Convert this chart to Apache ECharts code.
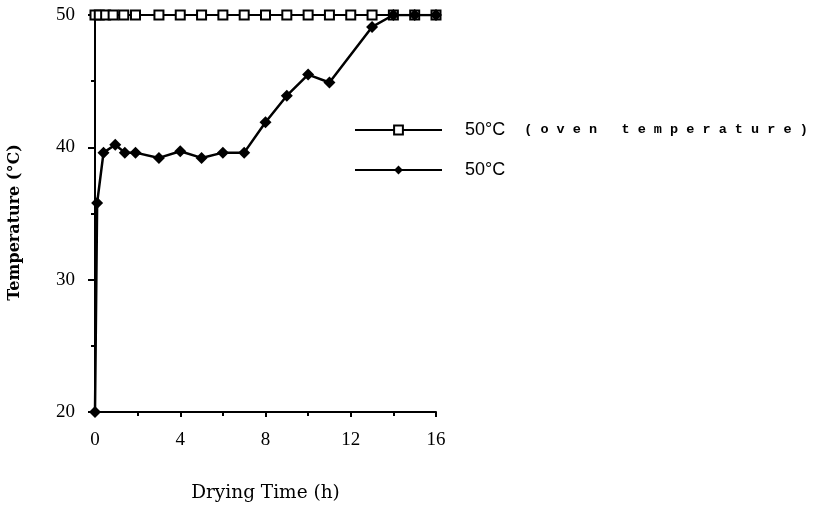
<!DOCTYPE html>
<html>
<head>
<meta charset="utf-8">
<script src="https://cdn.jsdelivr.net/npm/echarts@6/dist/echarts.min.js"></script>
<style>
  html, body { margin: 0; padding: 0; background: #fff; }
  #chart-container { width: 820px; height: 518px; }
</style>
</head>
<body>
<div id="chart-container"></div>
<script>
// oven temperature (open squares)
const ovenTime = [0, 0.2, 0.5, 0.85, 1.35, 1.9, 3, 4, 5, 6, 7, 8, 9, 10, 11, 12, 13, 14, 15, 16];
const ovenTemp = [50, 50, 50, 50, 50, 50, 50, 50, 50, 50, 50, 50, 50, 50, 50, 50, 50, 50, 50, 50];

// sample temperature (filled diamonds)
const sampleTime = [0, 0.1, 0.4, 0.95, 1.4, 1.9, 3, 4, 5, 6, 7, 8, 9, 10, 11, 13, 14, 15, 16];
const sampleTemp = [20, 35.8, 39.6, 40.2, 39.6, 39.6, 39.2, 39.7, 39.2, 39.6, 39.6, 41.9, 43.9, 45.5, 44.9, 49.1, 50, 50, 50];

const ovenName = "50°C (oven temperature)";
const sampleName = "50°C";

const pairs = (xs, ys) => xs.map((x, i) => [x, ys[i]]);

let dom = document.getElementById("chart-container");
let myChart = echarts.init(dom, null, { renderer: "canvas" });

const serif = "Liberation Serif";

let option = {
  animation: false,
  backgroundColor: "#fff",
  grid: { left: 95, right: 384, top: 15, bottom: 106 },
  legend: {
    orient: "vertical",
    left: 349,
    top: 116,
    itemWidth: 87,
    itemHeight: 11,
    itemGap: 22,
    data: [ovenName, sampleName],
    textStyle: {
      fontFamily: "Liberation Sans",
      fontSize: 18,
      color: "#000",
      padding: [0, 0, 0, 18],
      rich: {
        mono: {
          fontFamily: "Liberation Mono",
          fontWeight: "bold",
          fontSize: 13.5,
          color: "#000",
          padding: [0, 0, 0, 19],
        },
      },
    },
    formatter: (name) => {
      if (name === ovenName) return "50°C{mono|( o v e n   t e m p e r a t u r e )}";
      return name;
    },
  },
  xAxis: {
    type: "value",
    min: 0,
    max: 16,
    interval: 4,
    name: "Drying Time (h)",
    nameLocation: "middle",
    nameGap: 72,
    nameTextStyle: { fontFamily: "DejaVu Serif", fontSize: 18.5, color: "#000" },
    splitLine: { show: false },
    axisLine: { lineStyle: { color: "#000", width: 2 } },
    axisTick: { inside: false, length: 5, lineStyle: { color: "#000", width: 2 } },
    minorTick: { show: true, splitNumber: 2, length: 4, lineStyle: { color: "#000", width: 2 } },
    axisLabel: { fontFamily: serif, fontSize: 19, color: "#000", margin: 19 },
  },
  yAxis: {
    type: "value",
    min: 20,
    max: 50,
    interval: 10,
    name: "Temperature (°C)",
    nameLocation: "middle",
    nameGap: 72,
    nameTextStyle: {
      fontFamily: "DejaVu Serif",
      fontSize: 16,
      fontWeight: "bold",
      color: "#000",
      padding: [0, 18, 0, 0],
    },
    splitLine: { show: false },
    axisLine: { lineStyle: { color: "#000", width: 2 } },
    axisTick: { length: 7, lineStyle: { color: "#000", width: 2 } },
    minorTick: { show: true, splitNumber: 2, length: 4, lineStyle: { color: "#000", width: 2 } },
    axisLabel: { fontFamily: serif, fontSize: 19, color: "#000", margin: 20 },
  },
  series: [
    {
      name: ovenName,
      type: "line",
      data: pairs(ovenTime, ovenTemp),
      symbol: "rect",
      symbolSize: 9,
      lineStyle: { color: "#000", width: 2 },
      itemStyle: { color: "#fff", borderColor: "#000", borderWidth: 2 },
      z: 2,
    },
    {
      name: sampleName,
      type: "line",
      data: pairs(sampleTime, sampleTemp),
      symbol: "diamond",
      symbolSize: 12,
      lineStyle: { color: "#000", width: 2.5 },
      itemStyle: { color: "#000" },
      z: 3,
    },
  ],
};

myChart.setOption(option);
window.addEventListener("resize", myChart.resize);
</script>
</body>
</html>
